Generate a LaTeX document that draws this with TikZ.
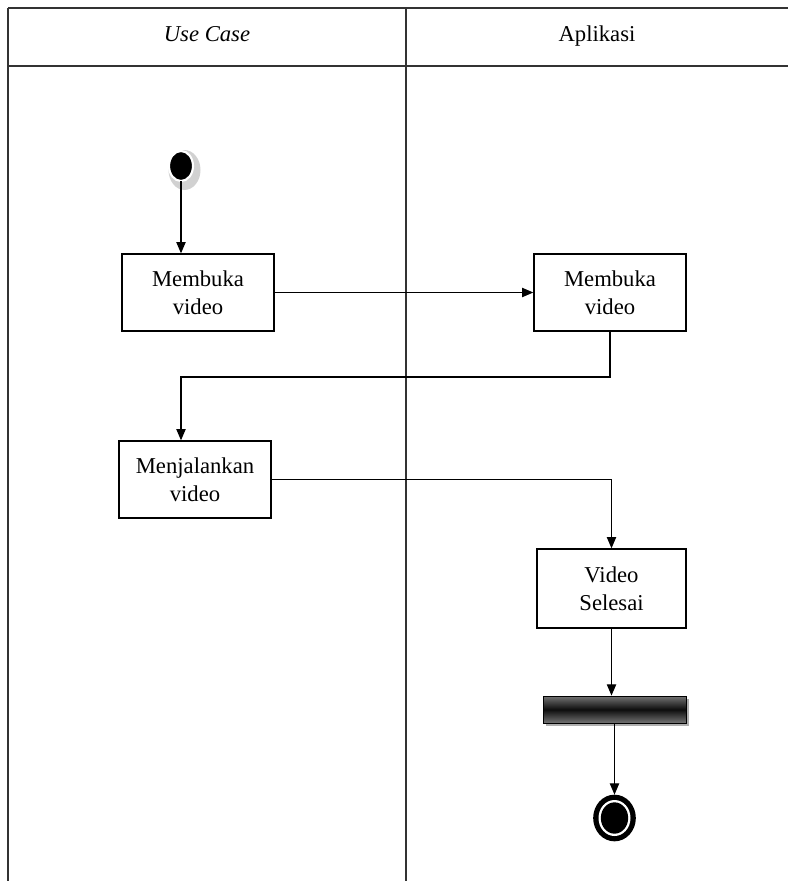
\documentclass[tikz,border=0pt]{standalone}
\usepackage{fontspec}
\setmainfont{Liberation Serif}
\usetikzlibrary{arrows.meta,shadows,shapes.geometric,calc}
\begin{document}
\begin{tikzpicture}[x=0.75pt,y=-0.75pt,
  lane/.style={draw=black!80,line width=1pt},
  txt/.style={font=\fontsize{17}{21}\selectfont,inner sep=0pt,anchor=base},
  act/.style={draw=black,line width=1pt,rectangle,minimum width=114pt,minimum height=57.75pt,align=center,font=\fontsize{17}{21}\selectfont,inner sep=0pt},
  flow/.style={draw=black,line width=0.95pt,-{Triangle[length=8.5pt,width=7pt]}},
  blob/.style={ellipse,inner sep=0pt,outer sep=0pt}
]
\useasboundingbox (0,0) rectangle (788,881);
% swimlane frame
\draw[lane] (8,8) -- (788,8);
\draw[lane] (8,66) -- (788,66);
\draw[lane] (8,8) -- (8,881);
\draw[lane] (406,8) -- (406,881);
\node[txt] (h1) at (207,42) {\itshape Use Case};
\node[txt] (h2) at (597,42) {Aplikasi};
% start node
\node[blob,fill=black!18,minimum width=24pt,minimum height=30pt] (startshadow) at (184.5,170) {};
\node[blob,fill=black,draw=white,line width=1.6pt,minimum width=18pt,minimum height=22.5pt] (start) at (181,166) {};
% activities
\node[act] (box1) at (198,292.5) {Membuka\\video};
\node[act] (box2) at (610,292.5) {Membuka\\video};
\node[act] (box3) at (195,479.5) {Menjalankan\\video};
\node[act,minimum width=111.75pt,minimum height=59.25pt] (box4) at (611.5,588.5) {Video\\Selesai};
% synchronisation bar
\node[rectangle,draw=black,line width=0.6pt,minimum width=107.25pt,minimum height=20.25pt,inner sep=0pt,
  top color=black!55,bottom color=black!55,middle color=black!95,
  drop shadow={shadow xshift=2.2pt,shadow yshift=-2.2pt,fill=black!45,opacity=0.7}] (bar) at (614.5,709.5) {};
% end node
\node[blob,fill=black,minimum width=32pt,minimum height=35pt] (end) at (614.5,818) {};
\node[blob,fill=white,minimum width=24pt,minimum height=27pt] (endring) at (614.5,818) {};
\node[blob,fill=black,minimum width=20.5pt,minimum height=23.5pt] (endcore) at (614.5,818) {};
% connectors
\coordinate (j1) at (181,377);
\draw[flow] (start.south) -- (start.south |- box1.north);
\draw[flow] (box1.east) -- (box2.west);
\draw[flow] (box2.south) |- (j1) -- (j1 |- box3.north);
\draw[flow] (box3.east) -| (box4.north);
\draw[flow] (box4.south) -- (box4.south |- bar.north);
\draw[flow] (bar.south) -- (end.north);
\end{tikzpicture}
\end{document}
